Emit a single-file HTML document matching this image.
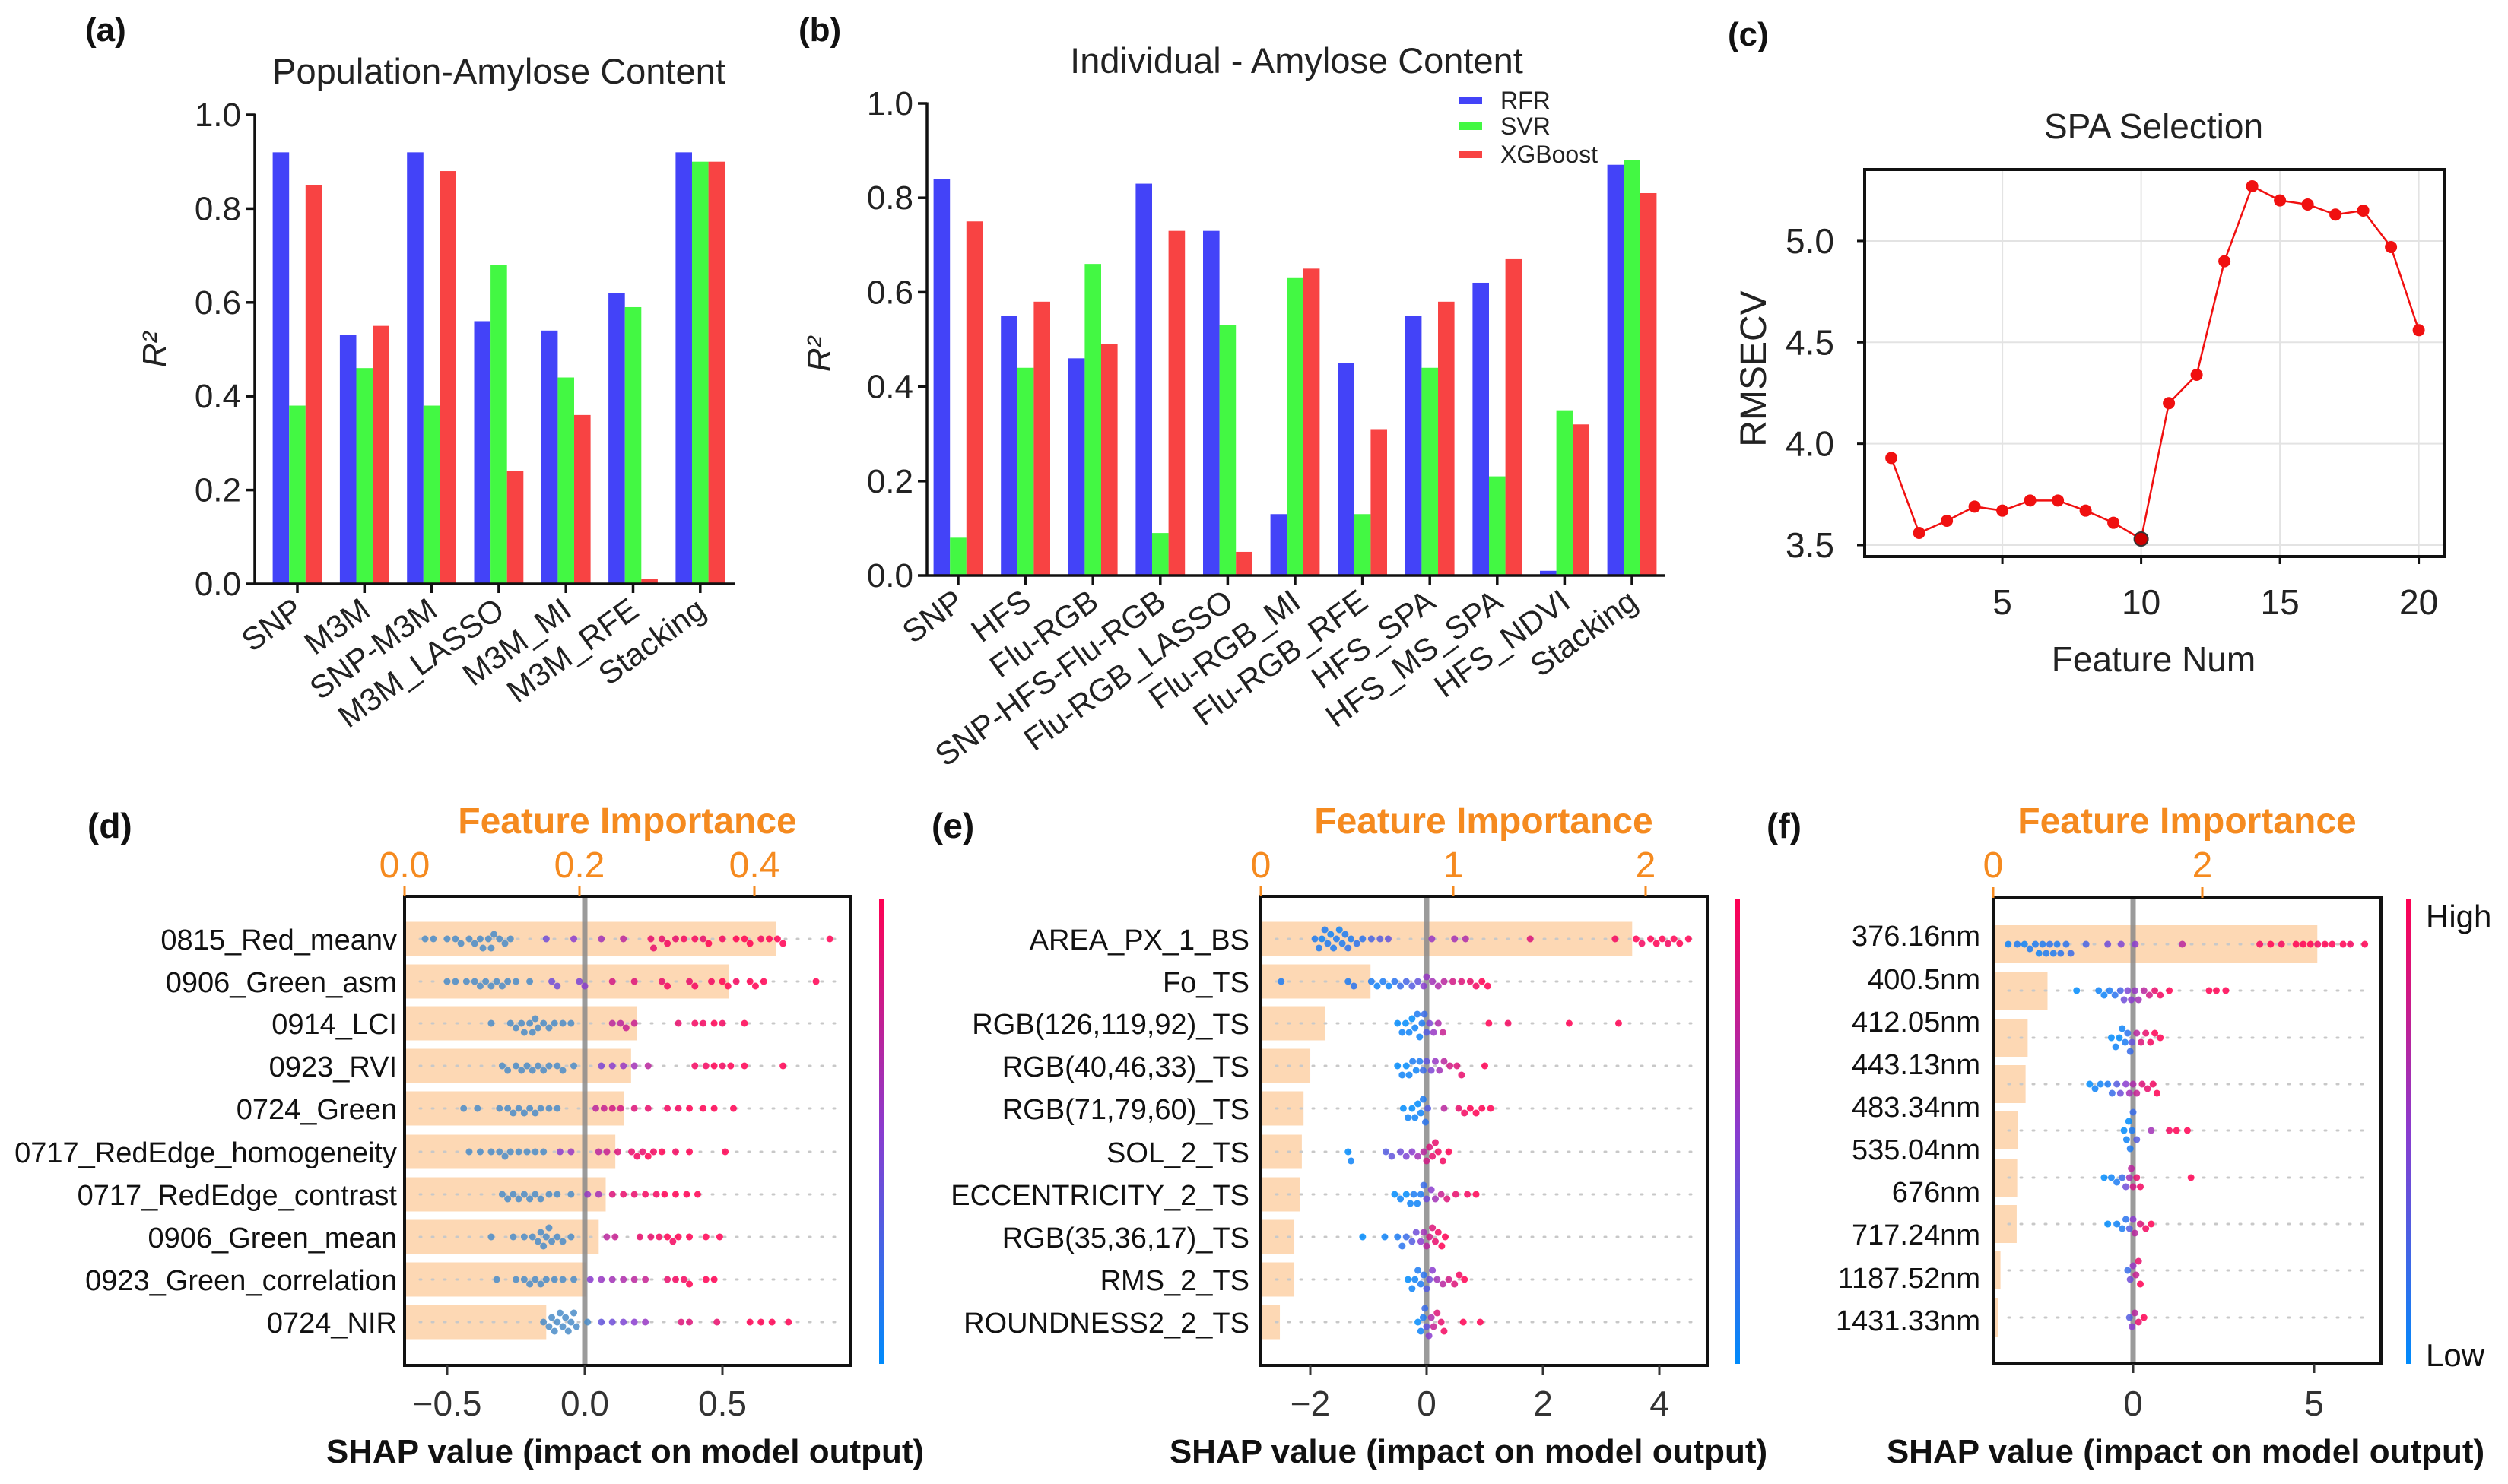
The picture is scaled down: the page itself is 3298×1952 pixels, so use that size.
<!DOCTYPE html>
<html><head><meta charset="utf-8"><style>
html,body{margin:0;padding:0;background:#fff}
svg{display:block}
text{font-family:"Liberation Sans",Arial,sans-serif}
</style></head><body>
<svg id="fig" width="3298" height="1952" viewBox="0 0 3298 1952" xmlns="http://www.w3.org/2000/svg">
<defs>
<linearGradient id="cbar" x1="0" y1="0" x2="0" y2="1">
<stop offset="0" stop-color="#ff0052"/><stop offset="0.5" stop-color="#8a3ccf"/><stop offset="1" stop-color="#008bfb"/>
</linearGradient>
</defs>
<rect width="3298" height="1952" fill="#fff"/>
<g id="root"></g>
</svg>
<script>
// ---------- Panel (a) data ----------
const aCats = ["SNP","M3M","SNP-M3M","M3M_LASSO","M3M_MI","M3M_RFE","Stacking"];
const aRFR = [0.92,0.53,0.92,0.56,0.54,0.62,0.92];
const aSVR = [0.38,0.46,0.38,0.68,0.44,0.59,0.90];
const aXGB = [0.85,0.55,0.88,0.24,0.36,0.01,0.90];
const barTicks = [0,0.2,0.4,0.6,0.8,1.0];
const barTickLabels = ["0.0","0.2","0.4","0.6","0.8","1.0"];
// ---------- Panel (b) data ----------
const bCats = ["SNP","HFS","Flu-RGB","SNP-HFS-Flu-RGB","Flu-RGB_LASSO","Flu-RGB_MI","Flu-RGB_RFE","HFS_SPA","HFS_MS_SPA","HFS_NDVI","Stacking"];
const bRFR = [0.84,0.55,0.46,0.83,0.73,0.13,0.45,0.55,0.62,0.01,0.87];
const bSVR = [0.08,0.44,0.66,0.09,0.53,0.63,0.13,0.44,0.21,0.35,0.88];
const bXGB = [0.75,0.58,0.49,0.73,0.05,0.65,0.31,0.58,0.67,0.32,0.81];
const legendNames = ["RFR","SVR","XGBoost"];
// ---------- Panel (c) data ----------
const cX = [1,2,3,4,5,6,7,8,9,10,11,12,13,14,15,16,17,18,19,20];
const cY = [3.93,3.56,3.62,3.69,3.67,3.72,3.72,3.67,3.61,3.53,4.20,4.34,4.90,5.27,5.20,5.18,5.13,5.15,4.97,4.56];
const cXTicks = [5,10,15,20];
const cYTicks = [3.5,4.0,4.5,5.0];
const cYTickLabels = ["3.5","4.0","4.5","5.0"];
// ---------- Panel (d) data ----------
const dFeatures = ["0815_Red_meanv","0906_Green_asm","0914_LCI","0923_RVI","0724_Green","0717_RedEdge_homogeneity","0717_RedEdge_contrast","0906_Green_mean","0923_Green_correlation","0724_NIR"];
const dImportance = [0.425,0.371,0.266,0.259,0.251,0.241,0.230,0.222,0.208,0.162];
const dTopTicks = [0,0.2,0.4];
const dTopLabels = ["0.0","0.2","0.4"];
const dBotTicks = [-0.5,0,0.5];
const dBotLabels = ["\u22120.5","0.0","0.5"];
// dots: [shap value, feature value 0..1]
const dDots = [
 [[-0.58,0.05],[-0.55,0.1],[-0.5,0.05],[-0.47,0.1],[-0.45,0.1],[-0.42,0.05],[-0.4,0.1],[-0.38,0.1],[-0.37,0.05],[-0.35,0.1],[-0.34,0.1],[-0.33,0.15],[-0.31,0.1],[-0.29,0.1],[-0.27,0.15],[-0.14,0.4],[-0.04,0.5],[0.06,0.6],[0.14,0.7],[0.24,0.9],[0.25,0.9],[0.28,0.9],[0.3,0.95],[0.33,0.9],[0.36,0.95],[0.4,0.95],[0.43,0.9],[0.45,1],[0.5,0.95],[0.55,1],[0.58,1],[0.6,1],[0.64,0.95],[0.67,1],[0.7,1],[0.72,1],[0.89,1]],
 [[-0.5,0.05],[-0.47,0.1],[-0.43,0.1],[-0.4,0.05],[-0.38,0.1],[-0.36,0.1],[-0.34,0.05],[-0.32,0.1],[-0.3,0.1],[-0.28,0.15],[-0.25,0.1],[-0.2,0.15],[-0.12,0.4],[-0.1,0.4],[-0.02,0.45],[0.0,0.5],[0.1,0.8],[0.18,0.85],[0.28,0.9],[0.3,0.95],[0.38,0.9],[0.4,0.95],[0.46,0.95],[0.5,1],[0.52,1],[0.55,0.95],[0.6,1],[0.62,1],[0.65,1],[0.84,1]],
 [[-0.34,0.1],[-0.27,0.1],[-0.25,0.1],[-0.23,0.05],[-0.22,0.1],[-0.2,0.1],[-0.19,0.1],[-0.18,0.05],[-0.17,0.15],[-0.15,0.1],[-0.13,0.1],[-0.11,0.15],[-0.08,0.2],[-0.05,0.2],[0.1,0.7],[0.13,0.7],[0.15,0.75],[0.18,0.75],[0.34,0.9],[0.4,0.95],[0.43,0.95],[0.47,1],[0.5,0.95],[0.58,1]],
 [[-0.3,0.1],[-0.28,0.1],[-0.25,0.1],[-0.23,0.05],[-0.21,0.1],[-0.19,0.1],[-0.17,0.15],[-0.15,0.1],[-0.13,0.15],[-0.1,0.2],[-0.08,0.25],[-0.04,0.25],[0.06,0.45],[0.1,0.5],[0.14,0.55],[0.18,0.6],[0.23,0.7],[0.4,0.95],[0.44,0.95],[0.47,1],[0.5,0.95],[0.53,1],[0.58,1],[0.72,1]],
 [[-0.44,0.1],[-0.39,0.1],[-0.31,0.1],[-0.28,0.1],[-0.26,0.05],[-0.24,0.1],[-0.22,0.1],[-0.2,0.15],[-0.18,0.1],[-0.16,0.15],[-0.13,0.15],[-0.1,0.2],[0.04,0.7],[0.07,0.75],[0.1,0.8],[0.13,0.8],[0.18,0.85],[0.23,0.9],[0.3,0.95],[0.34,0.95],[0.38,1],[0.43,1],[0.47,1],[0.54,1]],
 [[-0.42,0.1],[-0.38,0.1],[-0.34,0.1],[-0.31,0.05],[-0.29,0.1],[-0.27,0.15],[-0.24,0.1],[-0.21,0.1],[-0.18,0.2],[-0.15,0.3],[-0.09,0.5],[-0.05,0.55],[0.05,0.7],[0.08,0.75],[0.12,0.85],[0.17,0.9],[0.19,0.95],[0.21,0.9],[0.23,1],[0.25,0.95],[0.28,1],[0.33,0.95],[0.38,1],[0.51,1]],
 [[-0.3,0.1],[-0.28,0.1],[-0.26,0.1],[-0.24,0.05],[-0.22,0.1],[-0.2,0.1],[-0.18,0.15],[-0.16,0.1],[-0.13,0.2],[-0.1,0.25],[-0.05,0.3],[0.01,0.55],[0.05,0.6],[0.1,0.85],[0.14,0.9],[0.18,0.9],[0.22,0.95],[0.26,0.95],[0.29,1],[0.33,1],[0.37,1],[0.41,1]],
 [[-0.34,0.1],[-0.26,0.1],[-0.22,0.1],[-0.19,0.1],[-0.17,0.05],[-0.16,0.1],[-0.15,0.1],[-0.14,0.05],[-0.13,0.1],[-0.12,0.1],[-0.1,0.15],[-0.08,0.2],[-0.05,0.2],[0.08,0.7],[0.11,0.75],[0.2,0.9],[0.24,0.9],[0.27,0.95],[0.3,1],[0.32,0.95],[0.34,1],[0.38,1],[0.44,1],[0.49,1]],
 [[-0.32,0.1],[-0.25,0.1],[-0.22,0.1],[-0.2,0.05],[-0.18,0.1],[-0.16,0.1],[-0.14,0.1],[-0.11,0.15],[-0.08,0.2],[-0.04,0.25],[0.02,0.5],[0.06,0.55],[0.1,0.6],[0.14,0.65],[0.18,0.7],[0.22,0.75],[0.3,0.9],[0.33,0.95],[0.36,0.95],[0.38,1],[0.44,1],[0.47,1]],
 [[-0.15,0],[-0.13,0],[-0.12,0],[-0.11,0.05],[-0.1,0],[-0.09,0],[-0.08,0.05],[-0.07,0],[-0.06,0],[-0.05,0.05],[-0.04,0],[-0.03,0.05],[0.01,0.3],[0.06,0.35],[0.1,0.4],[0.14,0.45],[0.18,0.5],[0.22,0.55],[0.35,0.85],[0.38,0.85],[0.48,0.9],[0.6,1],[0.64,1],[0.68,1],[0.74,1]]
];
// ---------- Panel (e) data ----------
const eFeatures = ["AREA_PX_1_BS","Fo_TS","RGB(126,119,92)_TS","RGB(40,46,33)_TS","RGB(71,79,60)_TS","SOL_2_TS","ECCENTRICITY_2_TS","RGB(35,36,17)_TS","RMS_2_TS","ROUNDNESS2_2_TS"];
const eImportance = [1.93,0.57,0.335,0.257,0.222,0.213,0.205,0.174,0.174,0.099];
const eTopTicks = [0,1,2];
const eTopLabels = ["0","1","2"];
const eBotTicks = [-2,0,2,4];
const eBotLabels = ["\u22122","0","2","4"];
const eDots = [
 [[-1.92,0.1],[-1.85,0.1],[-1.8,0.05],[-1.75,0.1],[-1.7,0.1],[-1.65,0.05],[-1.6,0.1],[-1.55,0.1],[-1.5,0.05],[-1.45,0.1],[-1.4,0.1],[-1.35,0.15],[-1.3,0.1],[-1.2,0.15],[-1.1,0.15],[-0.95,0.25],[-0.8,0.3],[-0.66,0.35],[0.09,0.55],[0.48,0.6],[0.67,0.65],[1.78,0.85],[3.24,0.95],[3.6,1],[3.7,0.95],[3.85,1],[3.95,1],[4.05,1],[4.15,0.95],[4.25,1],[4.35,1],[4.5,1]],
 [[-2.5,0.1],[-1.35,0.1],[-1.25,0.15],[-0.95,0.1],[-0.85,0.05],[-0.75,0.1],[-0.65,0.05],[-0.55,0.15],[-0.45,0.2],[-0.35,0.25],[-0.25,0.3],[-0.15,0.35],[-0.05,0.5],[0.0,0.55],[0.1,0.6],[0.2,0.65],[0.3,0.7],[0.45,0.8],[0.6,0.85],[0.75,0.9],[0.85,0.95],[0.95,1],[1.05,1]],
 [[-0.5,0],[-0.42,0.05],[-0.36,0],[-0.3,0.05],[-0.25,0],[-0.2,0.05],[-0.16,0.1],[-0.12,0.05],[-0.08,0.1],[-0.04,0.2],[0.0,0.3],[0.05,0.45],[0.12,0.55],[0.2,0.65],[0.28,0.75],[1.07,1],[1.4,0.95],[2.45,1],[3.3,1]],
 [[-0.5,0],[-0.42,0.05],[-0.35,0],[-0.3,0.05],[-0.24,0.1],[-0.18,0.05],[-0.12,0.1],[-0.06,0.2],[0.0,0.35],[0.08,0.45],[0.15,0.55],[0.22,0.6],[0.3,0.7],[0.4,0.8],[0.52,0.85],[0.6,0.9],[1.0,1]],
 [[-0.4,0],[-0.32,0.05],[-0.25,0],[-0.2,0.05],[-0.15,0],[-0.1,0.05],[-0.06,0.1],[-0.02,0.15],[0.02,0.3],[0.3,0.7],[0.55,0.9],[0.65,0.95],[0.75,1],[0.85,1],[0.95,1],[1.1,1]],
 [[-1.35,0],[-1.3,0.05],[-0.7,0.3],[-0.6,0.35],[-0.45,0.4],[-0.35,0.45],[-0.25,0.5],[-0.15,0.6],[-0.05,0.7],[0.0,0.8],[0.05,0.85],[0.1,0.9],[0.15,0.9],[0.2,0.95],[0.28,0.95],[0.38,1]],
 [[-0.55,0],[-0.45,0.05],[-0.35,0],[-0.28,0.05],[-0.22,0.1],[-0.16,0.05],[-0.1,0.1],[-0.05,0.2],[0.0,0.4],[0.08,0.5],[0.15,0.6],[0.25,0.75],[0.35,0.85],[0.5,0.9],[0.7,0.95],[0.85,1]],
 [[-1.1,0],[-0.72,0.05],[-0.5,0.1],[-0.42,0.15],[-0.35,0.2],[-0.25,0.3],[-0.18,0.4],[-0.1,0.5],[-0.05,0.6],[0.0,0.7],[0.05,0.8],[0.1,0.85],[0.15,0.9],[0.2,0.95],[0.26,1],[0.32,1]],
 [[-0.32,0],[-0.25,0.05],[-0.2,0.05],[-0.15,0.1],[-0.1,0.1],[-0.05,0.15],[0.0,0.3],[0.05,0.4],[0.1,0.5],[0.18,0.6],[0.28,0.7],[0.38,0.8],[0.48,0.85],[0.56,0.95],[0.65,1]],
 [[-0.15,0],[-0.1,0.05],[-0.06,0.1],[-0.03,0.2],[0.0,0.35],[0.04,0.5],[0.08,0.65],[0.12,0.75],[0.18,0.85],[0.25,0.9],[0.3,0.95],[0.63,1],[0.92,1]]
];
// ---------- Panel (f) data ----------
const fLabels = ["376.16nm","400.5nm","412.05nm","443.13nm","483.34nm","535.04nm","676nm","717.24nm","1187.52nm","1431.33nm"];
const fImportance = [3.10,0.52,0.33,0.31,0.24,0.23,0.225,0.07,0.045];
const fTopTicks = [0,2];
const fTopLabels = ["0","2"];
const fBotTicks = [0,5];
const fBotLabels = ["0","5"];
const fDots = [
 [[-3.45,0.05],[-3.2,0.1],[-3.0,0.05],[-2.85,0.1],[-2.7,0.1],[-2.6,0.05],[-2.5,0.1],[-2.4,0.1],[-2.3,0.15],[-2.2,0.1],[-2.1,0.1],[-2.0,0.15],[-1.85,0.15],[-1.72,0.2],[-1.3,0.25],[-0.7,0.4],[-0.33,0.45],[0.06,0.5],[1.36,0.7],[3.5,0.95],[3.8,1],[4.1,0.95],[4.5,1],[4.7,1],[4.9,1],[5.1,0.95],[5.3,1],[5.5,1],[5.8,1],[6.0,0.95],[6.4,1]],
 [[-1.56,0],[-0.95,0.05],[-0.8,0.05],[-0.65,0.1],[-0.5,0.15],[-0.35,0.25],[-0.25,0.4],[-0.15,0.45],[-0.05,0.5],[0.05,0.55],[0.15,0.6],[0.3,0.7],[0.45,0.8],[0.6,0.9],[0.75,0.95],[1.0,1],[2.1,1],[2.3,1],[2.56,1]],
 [[-0.6,0],[-0.48,0.05],[-0.38,0],[-0.3,0.05],[-0.22,0.1],[-0.15,0.15],[-0.08,0.2],[-0.03,0.35],[0.1,0.7],[0.22,0.85],[0.35,0.9],[0.48,0.95],[0.6,1],[0.75,1]],
 [[-1.2,0],[-1.05,0.05],[-0.9,0.05],[-0.7,0.1],[-0.58,0.2],[-0.45,0.3],[-0.35,0.4],[-0.2,0.5],[-0.1,0.6],[0.0,0.65],[0.1,0.75],[0.25,0.85],[0.4,0.9],[0.55,0.95],[0.66,1]],
 [[-0.25,0],[-0.18,0.05],[-0.12,0],[-0.08,0.1],[-0.03,0.1],[0.0,0.2],[0.1,0.3],[0.5,0.6],[1.0,0.95],[1.2,1],[1.5,1]],
 [[-0.8,0],[-0.6,0.05],[-0.45,0.1],[-0.3,0.2],[-0.2,0.4],[-0.1,0.6],[-0.05,0.7],[0.0,0.8],[0.1,0.9],[0.2,0.95],[1.6,1]],
 [[-0.7,0],[-0.45,0.05],[-0.3,0.1],[-0.2,0.15],[-0.1,0.3],[0.0,0.5],[0.05,0.7],[0.2,0.85],[0.35,0.95],[0.5,1]],
 [[-0.15,0.2],[-0.08,0.4],[0.0,0.55],[0.08,0.75],[0.15,0.9],[0.2,1]],
 [[-0.1,0.3],[-0.03,0.5],[0.05,0.7],[0.15,0.9],[0.3,1]]
];

const NS = "http://www.w3.org/2000/svg";
const root = document.getElementById('root');
function el(tag, attrs, parent, txt) {
  const e = document.createElementNS(NS, tag);
  for (const k in attrs) e.setAttribute(k, attrs[k]);
  if (txt !== undefined) e.textContent = txt;
  (parent || root).appendChild(e);
  return e;
}
function grp(name, parent) {
  const g = el('g', {}, parent);
  
  
  return g;
}
const BLUE = "#4343f8", GREEN = "#43f843", RED = "#f84343";

// ---------- generic bar chart ----------
function barChart(cfg) {
  const g = grp(cfg.name);
  const yS = v => cfg.y0 - v * (cfg.y0 - cfg.y1);
  const xC = i => cfg.first + i * cfg.step;
  const bw = cfg.bw;
  const series = [cfg.s1, cfg.s2, cfg.s3];
  const cols = [BLUE, GREEN, RED];
  const sNames = ['rfr', 'svr', 'xgboost'];
  cfg.cats.forEach((c, i) => {
    series.forEach((s, k) => {
      const x = xC(i) + (k - 1.5) * bw;
      const r = el('rect', {x: x, y: yS(s[i]), width: bw, height: yS(0) - yS(s[i]), fill: cols[k]}, g);
      
      
    });
  });
  const ax = grp('y-axis', g);
  el('line', {x1: cfg.axX, y1: yS(0), x2: cfg.axX, y2: yS(1) - 1.5, stroke: '#111', 'stroke-width': 3.5}, ax);
  barTicks.forEach((t, i) => {
    el('line', {x1: cfg.axX - 12, y1: yS(t), x2: cfg.axX, y2: yS(t), stroke: '#111', 'stroke-width': 3.5}, ax);
    const tl = el('text', {x: cfg.axX - 18, y: yS(t) + 15, 'font-size': 44, 'text-anchor': 'end', fill: '#222'}, ax, barTickLabels[i]);
    
    
  });
  const bx = grp('x-axis', g);
  el('line', {x1: cfg.axX, y1: yS(0), x2: cfg.axR, y2: yS(0), stroke: '#111', 'stroke-width': 3.5}, bx);
  cfg.cats.forEach((c, i) => {
    el('line', {x1: xC(i), y1: yS(0), x2: xC(i), y2: yS(0) + 12, stroke: '#111', 'stroke-width': 3.5}, bx);
    const tx = xC(i) + 10, ty = yS(0) + 40;
    const tl = el('text', {x: tx, y: ty, 'font-size': 42, 'text-anchor': 'end', fill: '#222', transform: `rotate(-36 ${tx} ${ty})`}, bx, c);
    
    
  });
  const t = el('text', {x: cfg.titleX, y: cfg.titleY, 'font-size': 47, 'text-anchor': 'middle', fill: '#222'}, g, cfg.title);
  
  
  const yl = el('text', {x: cfg.ylX, y: cfg.ylY, 'font-size': 44, 'font-style': 'italic', 'text-anchor': 'middle', fill: '#222', transform: `rotate(-90 ${cfg.ylX} ${cfg.ylY})`}, g, 'R\u00B2');
  
  
  const pl = el('text', {x: cfg.lblX, y: 54, 'font-size': 44, 'font-weight': 'bold', fill: '#111'}, g, cfg.label);
  
  
  return g;
}
barChart({name: 'panel-a-population-chart', cats: aCats, s1: aRFR, s2: aSVR, s3: aXGB, y0: 768, y1: 151, first: 391, step: 88.3, bw: 21.6, axX: 335, axR: 967, title: 'Population-Amylose Content', titleX: 656, titleY: 110, ylX: 218, ylY: 460, label: '(a)', lblX: 112});
const gb = barChart({name: 'panel-b-individual-chart', cats: bCats, s1: bRFR, s2: bSVR, s3: bXGB, y0: 757, y1: 136, first: 1260, step: 88.6, bw: 21.6, axX: 1219, axR: 2190, title: 'Individual - Amylose Content', titleX: 1705, titleY: 96, ylX: 1092, ylY: 466, label: '(b)', lblX: 1050});
// legend
const lg = grp('legend', gb);
[BLUE, GREEN, RED].forEach((c, k) => {
  const ly = [132, 166, 203][k];
  const e = grp('legend-entry-' + legendNames[k].toLowerCase(), lg);
  el('rect', {x: 1918, y: ly - 5, width: 31, height: 10, fill: c}, e);
  el('text', {x: 1973, y: ly + 11, 'font-size': 32, fill: '#222'}, e, legendNames[k]);
});

// ---------- Panel (c) ----------
(function () {
  const g = grp('panel-c-spa-chart');
  const L = 2452, R = 3215, T = 223, B = 732;
  const xS = v => 2450.6 + v * 36.5;
  const yS = v => 717 - (v - 3.5) * 266.7;
  const gridG = grp('grid', g);
  cXTicks.forEach(t => el('line', {x1: xS(t), y1: T, x2: xS(t), y2: B, stroke: '#e3e3e3', 'stroke-width': 2}, gridG));
  cYTicks.forEach(t => el('line', {x1: L, y1: yS(t), x2: R, y2: yS(t), stroke: '#e3e3e3', 'stroke-width': 2}, gridG));
  const pts = cX.map((x, i) => xS(x) + ',' + yS(cY[i])).join(' ');
  const ln = el('polyline', {points: pts, fill: 'none', stroke: '#f01010', 'stroke-width': 2.5}, g);
  
  
  cX.forEach((x, i) => {
    const m = el('circle', {cx: xS(x), cy: yS(cY[i]), r: 8, fill: '#f01010'}, g);
    
    
  });
  let mi = 0; cY.forEach((v, i) => { if (v < cY[mi]) mi = i; });
  el('circle', {cx: xS(cX[mi]), cy: yS(cY[mi]), r: 9, fill: '#c00', stroke: '#333', 'stroke-width': 2}, g);
  el('rect', {x: L, y: T, width: R - L, height: B - T, fill: 'none', stroke: '#111', 'stroke-width': 4}, g);
  cXTicks.forEach(t => {
    el('line', {x1: xS(t), y1: B, x2: xS(t), y2: B + 10, stroke: '#111', 'stroke-width': 3}, g);
    const tl = el('text', {x: xS(t), y: 808, 'font-size': 46, 'text-anchor': 'middle', fill: '#222'}, g, String(t));
    
    
  });
  cYTicks.forEach((t, i) => {
    el('line', {x1: L - 10, y1: yS(t), x2: L, y2: yS(t), stroke: '#111', 'stroke-width': 3}, g);
    const tl = el('text', {x: 2412, y: yS(t) + 16, 'font-size': 46, 'text-anchor': 'end', fill: '#222'}, g, cYTickLabels[i]);
    
    
  });
  const t = el('text', {x: 2832, y: 182, 'font-size': 46, 'text-anchor': 'middle', fill: '#222'}, g, 'SPA Selection');
  
  
  const xl = el('text', {x: 2832, y: 883, 'font-size': 46, 'text-anchor': 'middle', fill: '#222'}, g, 'Feature Num');
  
  
  const yl = el('text', {x: 2322, y: 485, 'font-size': 48, 'text-anchor': 'middle', fill: '#222', transform: 'rotate(-90 2322 485)'}, g, 'RMSECV');
  
  
  const pl = el('text', {x: 2272, y: 60, 'font-size': 44, 'font-weight': 'bold', fill: '#111'}, g, '(c)');
  
  
})();

// ---------- SHAP panels ----------
function shapColor(c) {
  const stops = [[0, [0, 139, 251]], [0.5, [138, 60, 207]], [1, [255, 0, 82]]];
  let a = stops[0], b = stops[1];
  if (c > 0.5) { a = stops[1]; b = stops[2]; }
  const t = (c - a[0]) / (b[0] - a[0]);
  const rgb = a[1].map((v, i) => Math.round(v + (b[1][i] - v) * t));
  return `rgb(${rgb.join(',')})`;
}
const ORANGE = "#f58a1f";
function shapPanel(cfg) {
  const g = grp(cfg.name);
  const zS = v => cfg.zero + v * cfg.unit;
  const iS = v => cfg.L + v * cfg.iunit;
  const bg = grp('importance-bars', g);
  cfg.imp.forEach((v, i) => {
    const r = el('rect', {x: cfg.L, y: cfg.rowY[i] - cfg.bh / 2, width: iS(v) - cfg.L, height: cfg.bh, fill: '#fdd8b4'}, bg);
    
    
  });
  cfg.rowY.forEach(y => el('line', {x1: cfg.L + 20, y1: y, x2: cfg.R - 10, y2: y, stroke: '#c8c8c8', 'stroke-width': 3, 'stroke-dasharray': '2 14', 'stroke-linecap': 'round'}, g));
  el('line', {x1: cfg.zero, y1: cfg.T, x2: cfg.zero, y2: cfg.B, stroke: '#8a8a8a', 'stroke-width': 7, 'stroke-opacity': 0.85}, g);
  const dg = grp('shap-dots', g);
  const r = 4.5;
  cfg.dots.forEach((row, i) => {
    const placed = [];
    const sorted = row.slice().sort((a, b) => a[0] - b[0]);
    sorted.forEach(p => {
      const x = zS(p[0]);
      let off = 0;
      for (let k = 0; k < 9; k++) {
        const o = (k % 2 ? 1 : -1) * Math.ceil(k / 2) * 6;
        if (!placed.some(q => Math.hypot(q[0] - x, q[1] - o) < 2 * r)) { off = o; break; }
        off = o;
      }
      placed.push([x, off]);
      const c = el('circle', {cx: x, cy: cfg.rowY[i] + off, r: r, fill: cfg.dim && p[1] < 0.35 ? '#4a8cc8' : shapColor(p[1]), 'fill-opacity': 0.85}, dg);
      
      
    });
  });
  el('rect', {x: cfg.L, y: cfg.T, width: cfg.R - cfg.L, height: cfg.B - cfg.T, fill: 'none', stroke: '#111', 'stroke-width': 4}, g);
  const lg = grp('feature-labels', g);
  cfg.labels.forEach((l, i) => {
    const t = el('text', {x: cfg.labR, y: cfg.labY[i] + 14, 'font-size': 38, 'text-anchor': 'end', fill: '#111'}, lg, l);
    
    
  });
  const tg = grp('importance-axis', g);
  cfg.topTicks.forEach((t, i) => {
    el('line', {x1: iS(t), y1: cfg.T - 14, x2: iS(t), y2: cfg.T, stroke: ORANGE, 'stroke-width': 3}, tg);
    el('text', {x: iS(t), y: 1154, 'font-size': 48, 'text-anchor': 'middle', fill: ORANGE}, tg, cfg.topLabels[i]);
  });
  const ft = el('text', {x: cfg.fiX, y: 1096, 'font-size': 48, 'font-weight': 'bold', 'text-anchor': 'middle', fill: ORANGE}, g, 'Feature Importance');
  
  
  const xg = grp('shap-axis', g);
  cfg.botTicks.forEach((t, i) => {
    el('line', {x1: zS(t), y1: cfg.B, x2: zS(t), y2: cfg.B + 12, stroke: '#333', 'stroke-width': 3}, xg);
    el('text', {x: zS(t), y: 1862, 'font-size': 46, 'text-anchor': 'middle', fill: '#333'}, xg, cfg.botLabels[i]);
  });
  const xt = el('text', {x: cfg.shX, y: 1924, 'font-size': 44, 'font-weight': 'bold', 'text-anchor': 'middle', fill: '#111'}, g, 'SHAP value (impact on model output)');
  
  
  const cb = el('rect', {x: cfg.cbX - 3, y: 1182, width: 6, height: 612, fill: 'url(#cbar)'}, g);
  
  
  const pl = el('text', {x: cfg.lblX, y: 1102, 'font-size': 46, 'font-weight': 'bold', fill: '#111'}, g, cfg.panel);
  
  
  return g;
}
const rowsDE = [1235, 1291, 1346, 1402, 1458, 1515, 1571, 1627, 1683, 1739];
shapPanel({name: 'panel-d-shap', L: 532, R: 1119, T: 1179, B: 1796, zero: 769, unit: 362, iunit: 1150, imp: dImportance, dots: dDots, rowY: rowsDE, labY: rowsDE, labels: dFeatures, labR: 522, bh: 45, topTicks: dTopTicks, topLabels: dTopLabels, botTicks: dBotTicks, botLabels: dBotLabels, fiX: 825, shX: 822, cbX: 1159, lblX: 115, panel: '(d)', dim: true});
shapPanel({name: 'panel-e-shap', L: 1658, R: 2245, T: 1179, B: 1796, zero: 1876, unit: 76.5, iunit: 253, imp: eImportance, dots: eDots, rowY: rowsDE, labY: rowsDE, labels: eFeatures, labR: 1643, bh: 45, topTicks: eTopTicks, topLabels: eTopLabels, botTicks: eBotTicks, botLabels: eBotLabels, fiX: 1951, shX: 1931, cbX: 2285, lblX: 1225, panel: '(e)'});
const fg = shapPanel({name: 'panel-f-shap', L: 2621, R: 3131, T: 1181, B: 1794, zero: 2805, unit: 47.6, iunit: 137.5, imp: fImportance, dots: fDots, rowY: [1242, 1303, 1365, 1426, 1487, 1549, 1610, 1671, 1733], labY: [1230, 1287, 1343, 1399, 1455, 1511, 1567, 1623, 1680, 1736], labels: fLabels, labR: 2604, bh: 50, topTicks: fTopTicks, topLabels: fTopLabels, botTicks: fBotTicks, botLabels: fBotLabels, fiX: 2876, shX: 2874, cbX: 3167, lblX: 2323, panel: '(f)'});
const hi = el('text', {x: 3190, y: 1220, 'font-size': 42, fill: '#111'}, fg, 'High');


const lo = el('text', {x: 3190, y: 1797, 'font-size': 42, fill: '#111'}, fg, 'Low');


</script>
</body></html>
